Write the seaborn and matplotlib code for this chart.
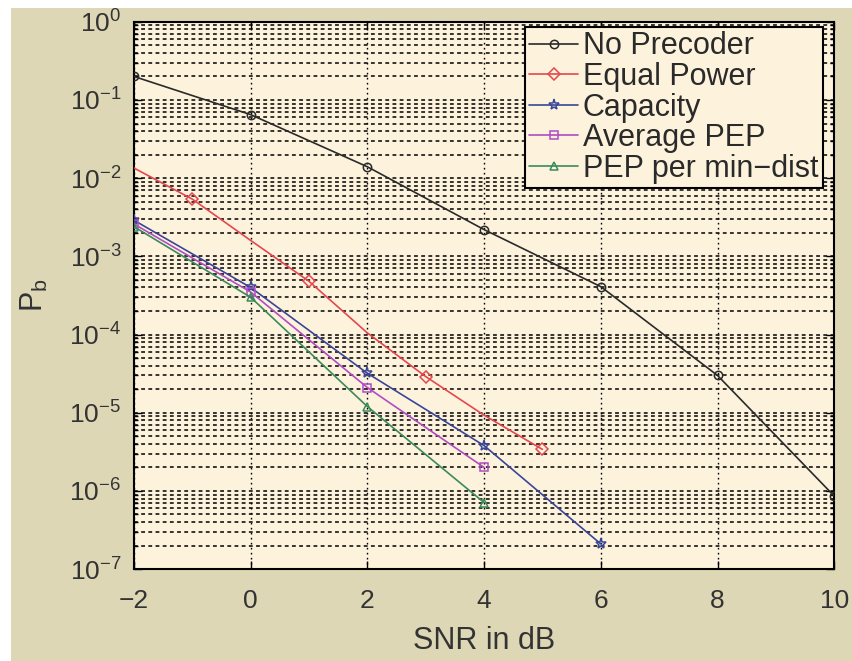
import numpy as np
import pandas as pd
import matplotlib
matplotlib.use("Agg")
import matplotlib.pyplot as plt
from matplotlib.ticker import LogLocator, NullFormatter, FixedLocator
from matplotlib.patches import Rectangle
import seaborn as sns

# SNR grid (dB) and bit-error probability for each precoder design
snr_even = [-2, 0, 2, 4, 6, 8, 10]
pb_no_precoder = [0.20, 0.065, 0.014, 2.2e-3, 4.1e-4, 3.0e-5, 8.6e-7]

snr_equal = [-2, -1, 0, 1, 2, 3, 4, 5]
pb_equal_power = [0.0135, 5.4e-3, 1.6e-3, 4.8e-4, 1.05e-4, 2.9e-5, 9.3e-6, 3.4e-6]

snr_capacity = [-2, 0, 2, 4, 6]
pb_capacity = [2.9e-3, 4.0e-4, 3.2e-5, 3.8e-6, 2.1e-7]

snr_avg_pep = [-2, 0, 2, 4]
pb_avg_pep = [2.6e-3, 3.5e-4, 2.1e-5, 2.0e-6]

snr_min_dist = [-2, 0, 2, 4]
pb_min_dist = [2.4e-3, 3.0e-4, 1.2e-5, 7.1e-7]

x_ticks = [-2, 0, 2, 4, 6, 8, 10]

series = [
    ("No Precoder", snr_even, pb_no_precoder, "#2a2a2a", "o", None),
    ("Equal Power", snr_equal, pb_equal_power, "#e4474d", "D", slice(1, None, 2)),
    ("Capacity", snr_capacity, pb_capacity, "#3b4597", "*", None),
    ("Average PEP", snr_avg_pep, pb_avg_pep, "#b04cc4", "s", None),
    ("PEP per min\u2212dist", snr_min_dist, pb_min_dist, "#3a8a5c", "^", None),
]

sns.set_style("ticks")
plt.rcParams["font.family"] = ["Liberation Sans", "DejaVu Sans"]
plt.rcParams["mathtext.default"] = "regular"

tan = "#ddd7b5"
cream = "#fdf3dd"

fig = plt.figure(figsize=(8.53, 6.61), dpi=100, facecolor=tan)
# white margins along the top and left edges
fig.patches.append(Rectangle((0, 1 - 8 / 661), 1, 8 / 661, transform=fig.transFigure,
                             facecolor="white", edgecolor="none", zorder=-5))
fig.patches.append(Rectangle((0, 0), 11 / 853, 1, transform=fig.transFigure,
                             facecolor="white", edgecolor="none", zorder=-5))

ax = fig.add_axes([0.157, 0.139, 0.821, 0.828])
ax.set_facecolor(cream)

for label, x, y, color, marker, every in series:
    df = pd.DataFrame({"snr": x, "pb": y})
    kw = {}
    if every is not None:
        kw["markevery"] = every
    sns.lineplot(data=df, x="snr", y="pb", ax=ax, color=color, marker=marker,
                 markersize=6 if marker != "*" else 8, markerfacecolor="none",
                 markeredgecolor=color, markeredgewidth=1.1, linewidth=1.2,
                 label=label, zorder=3, **kw)

ax.set_yscale("log")
ax.set_xlim(-2, 10)
ax.set_ylim(1e-7, 1)
ax.xaxis.set_major_locator(FixedLocator(x_ticks))
ax.yaxis.set_major_locator(LogLocator(base=10, numticks=20))
ax.yaxis.set_minor_locator(LogLocator(base=10, subs=np.arange(2, 10), numticks=20))
ax.yaxis.set_minor_formatter(NullFormatter())

# dotted grid: vertical at major x ticks, horizontal at every decade subdivision
ax.grid(False)
ax.grid(True, which="major", axis="x", color="black", linestyle=(0, (1.2, 2.4)), linewidth=1.0, zorder=1)
ax.grid(True, which="both", axis="y", color="black", linestyle=(0, (2.5, 2.2)), linewidth=1.1, zorder=1)

ax.tick_params(which="both", direction="in", top=True, right=True, colors="black",
               labelcolor="#333333", width=1.0)
ax.tick_params(which="major", length=6, labelsize=19)
ax.tick_params(which="minor", length=3)
ax.tick_params(axis="x", which="major", pad=14)
ax.tick_params(axis="y", which="major", pad=9)
for s in ax.spines.values():
    s.set_linewidth(1.5)
    s.set_color("black")

ax.set_xlabel("SNR in dB", fontsize=22, color="#333333", labelpad=10)
ax.set_ylabel("P$_b$", fontsize=22, color="#333333", labelpad=14)

leg = ax.legend(loc="upper right", bbox_to_anchor=(0.984, 0.991), borderaxespad=0,
                fontsize=22, labelspacing=0.02, handlelength=1.6, handletextpad=0.15,
                borderpad=0.15, fancybox=False, frameon=True)
leg.get_frame().set_edgecolor("black")
leg.get_frame().set_linewidth(1.5)
leg.get_frame().set_facecolor(cream)
leg.get_frame().set_alpha(1)
for t in leg.get_texts():
    t.set_color("#2a2a2a")

fig.savefig("out.png", dpi=100, facecolor=fig.get_facecolor())
